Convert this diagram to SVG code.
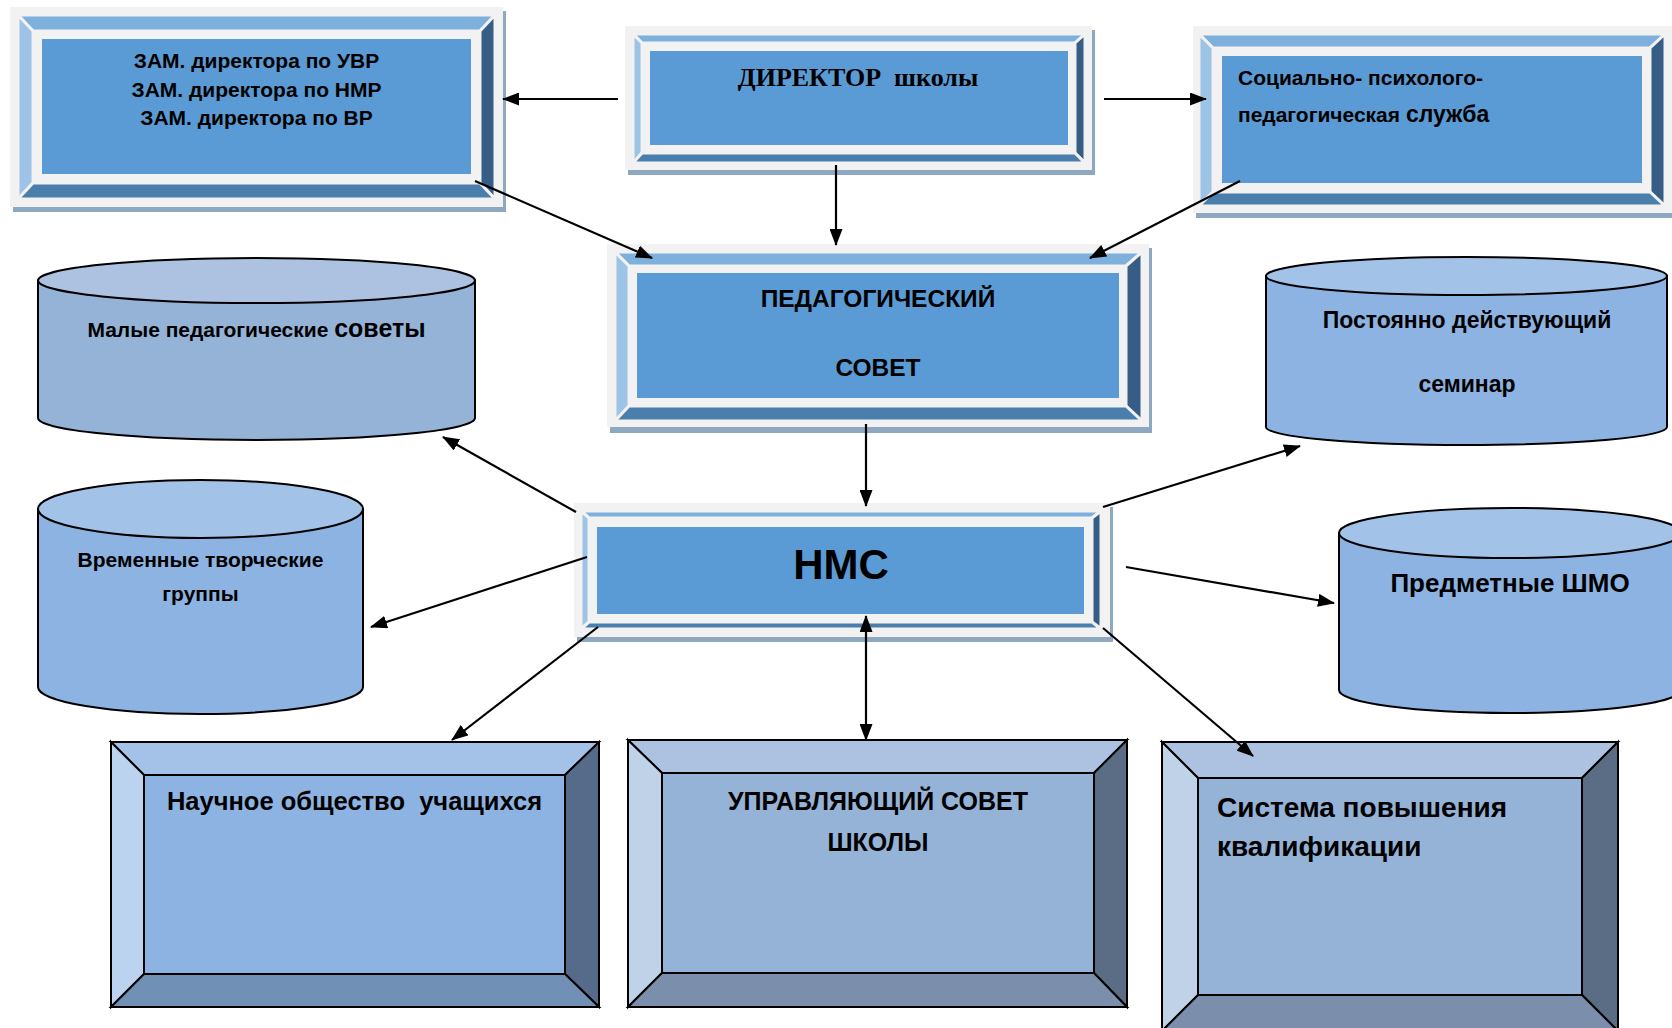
<svg xmlns="http://www.w3.org/2000/svg" width="1672" height="1028" viewBox="0 0 1672 1028">
<defs>
<marker id="ah" markerUnits="userSpaceOnUse" markerWidth="17" markerHeight="13" refX="16" refY="6.5" orient="auto-start-reverse"><path d="M0,0 L17,6.5 L0,13 Z" fill="#000"/></marker>
</defs>
<style>
.t{font-family:"Liberation Sans",Arial,sans-serif;font-weight:bold;fill:#000}
.ts{font-family:"Liberation Serif","Times New Roman",serif;font-weight:bold;fill:#000}
.sh{fill:#8fa8c2}
.out{fill:#f2f2f2}
.bv{stroke:#f2f2f2;stroke-width:3;stroke-linejoin:miter}
.bt{fill:#7eb0dd}.bl{fill:#9dc3e6}.br{fill:#355d86}.bb{fill:#4a7ead}
.face{fill:#5b9bd5}
.k{stroke:#000;stroke-width:2;stroke-linejoin:miter}
.cyl{stroke:#000;stroke-width:2}
.c{fill:none;stroke:#000;stroke-width:2.2}
</style>

<g id="zam">
<rect class="sh" x="13" y="11" width="493" height="201"/>
<rect class="out" x="10" y="7" width="493" height="200"/>
<polygon class="bv bt" points="18,15 495,15 480,31 33,31"/>
<polygon class="bv bl" points="18,15 33,31 33,183 18,199"/>
<polygon class="bv br" points="495,15 495,199 480,183 480,31"/>
<polygon class="bv bb" points="18,199 33,183 480,183 495,199"/>
<rect class="face" x="42" y="39" width="429" height="135"/>
<text class="t" font-size="21" text-anchor="middle" x="256.5" y="68">ЗАМ. директора по УВР</text>
<text class="t" font-size="21" text-anchor="middle" x="256.5" y="97">ЗАМ. директора по НМР</text>
<text class="t" font-size="21" text-anchor="middle" x="256.5" y="125">ЗАМ. директора по ВР</text>
</g>

<g id="director">
<rect class="sh" x="628" y="30" width="467" height="145"/>
<rect class="out" x="625" y="26" width="467" height="144"/>
<polygon class="bv bt" points="633,34 1085,34 1075,43 642,43"/>
<polygon class="bv bl" points="633,34 642,43 642,153 633,163"/>
<polygon class="bv br" points="1085,34 1085,163 1075,153 1075,43"/>
<polygon class="bv bb" points="633,163 642,153 1075,153 1085,163"/>
<rect class="face" x="650" y="51" width="418" height="94"/>
<text class="ts" font-size="26" text-anchor="middle" x="858" y="86" style="white-space:pre">ДИРЕКТОР  школы</text>
</g>

<g id="social">
<rect class="sh" x="1196" y="30" width="479" height="188"/>
<rect class="out" x="1193" y="26" width="479" height="187"/>
<polygon class="bv bt" points="1199,34 1665,34 1650,48 1213,48"/>
<polygon class="bv bl" points="1199,34 1213,48 1213,192 1199,206"/>
<polygon class="bv br" points="1665,34 1665,206 1650,192 1650,48"/>
<polygon class="bv bb" points="1199,206 1213,192 1650,192 1665,206"/>
<rect class="face" x="1222" y="56" width="420" height="127"/>
<text class="t" font-size="21" x="1238" y="85">Социально- психолого-</text>
<text class="t" font-size="21" x="1238" y="122">педагогическая <tspan font-size="23">служба</tspan></text>
</g>

<g id="pedsovet">
<rect class="sh" x="610" y="248" width="542" height="185"/>
<rect class="out" x="607" y="244" width="542" height="183"/>
<polygon class="bv bt" points="615,252 1142,252 1126,266 629,266"/>
<polygon class="bv bl" points="615,252 629,266 629,406 615,421"/>
<polygon class="bv br" points="1142,252 1142,421 1126,406 1126,266"/>
<polygon class="bv bb" points="615,421 629,406 1126,406 1142,421"/>
<rect class="face" x="637" y="273" width="482" height="125"/>
<text class="t" font-size="24.5" text-anchor="middle" x="878" y="307">ПЕДАГОГИЧЕСКИЙ</text>
<text class="t" font-size="24.5" text-anchor="middle" x="878" y="376">СОВЕТ</text>
</g>

<g id="nms">
<rect class="sh" x="577" y="507" width="536" height="135"/>
<rect class="out" x="574" y="503" width="536" height="134"/>
<polygon class="bv bt" points="581,511 1101,511 1092,518 589,518"/>
<polygon class="bv bl" points="581,511 589,518 589,622 581,629"/>
<polygon class="bv br" points="1101,511 1101,629 1092,622 1092,518"/>
<polygon class="bv bb" points="581,629 589,622 1092,622 1101,629"/>
<rect class="face" x="597" y="527" width="487" height="87"/>
<text class="t" font-size="42" text-anchor="middle" x="841" y="579">НМС</text>
</g>

<g id="malye">
<path class="cyl" fill="#95b3d7" d="M38,280.5 V418 A218.5,22 0 0 0 475,418 V280.5 Z"/>
<ellipse class="cyl" fill="#adc2e0" cx="256.5" cy="280.5" rx="218.5" ry="22.5"/>
<text class="t" font-size="21" text-anchor="middle" x="256.5" y="337">Малые педагогические <tspan font-size="25">советы</tspan></text>
</g>

<g id="vremennye">
<path class="cyl" fill="#8db3e2" d="M38,509 V687 A162.5,27 0 0 0 363,687 V509 Z"/>
<ellipse class="cyl" fill="#a3c2e8" cx="200.5" cy="509" rx="162.5" ry="29"/>
<text class="t" font-size="21" text-anchor="middle" x="200.5" y="567">Временные творческие</text>
<text class="t" font-size="21" text-anchor="middle" x="200.5" y="601">группы</text>
</g>

<g id="seminar">
<path class="cyl" fill="#8db3e2" d="M1266,276 V427 A200.5,18 0 0 0 1667,427 V276 Z"/>
<ellipse class="cyl" fill="#a3c2e8" cx="1466.5" cy="276" rx="200.5" ry="19"/>
<text class="t" font-size="23" text-anchor="middle" x="1467" y="328">Постоянно действующий</text>
<text class="t" font-size="23" text-anchor="middle" x="1467" y="392">семинар</text>
</g>

<g id="shmo">
<path class="cyl" fill="#8db3e2" d="M1339,533 V690 A171,23 0 0 0 1681,690 V533 Z"/>
<ellipse class="cyl" fill="#a3c2e8" cx="1510" cy="533" rx="171" ry="25"/>
<text class="t" font-size="26" text-anchor="middle" x="1510" y="592">Предметные ШМО</text>
</g>

<g id="nou">
<polygon class="k" fill="#a4c2e8" points="111,742 599,742 565,775 144,775"/>
<polygon class="k" fill="#bcd3ef" points="111,742 144,775 144,974 111,1007"/>
<polygon class="k" fill="#556b89" points="599,742 599,1007 565,974 565,775"/>
<polygon class="k" fill="#7090b5" points="111,1007 144,974 565,974 599,1007"/>
<rect class="k" fill="#8db3e2" x="144" y="775" width="421" height="199"/>
<text class="t" font-size="25.5" text-anchor="middle" x="354.5" y="810" style="white-space:pre">Научное общество  учащихся</text>
</g>

<g id="upravl">
<polygon class="k" fill="#adc2e0" points="628,740 1127,740 1094,773 662,773"/>
<polygon class="k" fill="#c0d2e8" points="628,740 662,773 662,973 628,1007"/>
<polygon class="k" fill="#5b6d84" points="1127,740 1127,1007 1094,973 1094,773"/>
<polygon class="k" fill="#7b8fac" points="628,1007 662,973 1094,973 1127,1007"/>
<rect class="k" fill="#95b3d7" x="662" y="773" width="432" height="200"/>
<text class="t" font-size="25" text-anchor="middle" x="878" y="810">УПРАВЛЯЮЩИЙ СОВЕТ</text>
<text class="t" font-size="25" text-anchor="middle" x="878" y="851">ШКОЛЫ</text>
</g>

<g id="sistema">
<polygon class="k" fill="#adc2e0" points="1162,742 1618,742 1582,778 1198,778"/>
<polygon class="k" fill="#c0d2e8" points="1162,742 1198,778 1198,995 1162,1031"/>
<polygon class="k" fill="#5b6d84" points="1618,742 1618,1031 1582,995 1582,778"/>
<polygon class="k" fill="#7b8fac" points="1162,1031 1198,995 1582,995 1618,1031"/>
<rect class="k" fill="#95b3d7" x="1198" y="778" width="384" height="217"/>
<text class="t" font-size="28" x="1217" y="817">Система повышения</text>
<text class="t" font-size="28" x="1217" y="856">квалификации</text>
</g>

<g id="connectors">
<path class="c" d="M618,99 L503,99" marker-end="url(#ah)"/>
<path class="c" d="M1104,99 L1206,99" marker-end="url(#ah)"/>
<path class="c" d="M836,165 L836,245" marker-end="url(#ah)"/>
<path class="c" d="M475,181 L652,258" marker-end="url(#ah)"/>
<path class="c" d="M1240,181 L1090,258" marker-end="url(#ah)"/>
<path class="c" d="M866,424 L866,506" marker-end="url(#ah)"/>
<path class="c" d="M576,512 L443,437" marker-end="url(#ah)"/>
<path class="c" d="M587,557 L371,627" marker-end="url(#ah)"/>
<path class="c" d="M598,627 L452,740" marker-end="url(#ah)"/>
<path class="c" d="M866,616 L866,740" marker-start="url(#ah)" marker-end="url(#ah)"/>
<path class="c" d="M1103,507 L1300,446" marker-end="url(#ah)"/>
<path class="c" d="M1126,567 L1334,603" marker-end="url(#ah)"/>
<path class="c" d="M1103,628 L1253,756" marker-end="url(#ah)"/>
</g>
</svg>
